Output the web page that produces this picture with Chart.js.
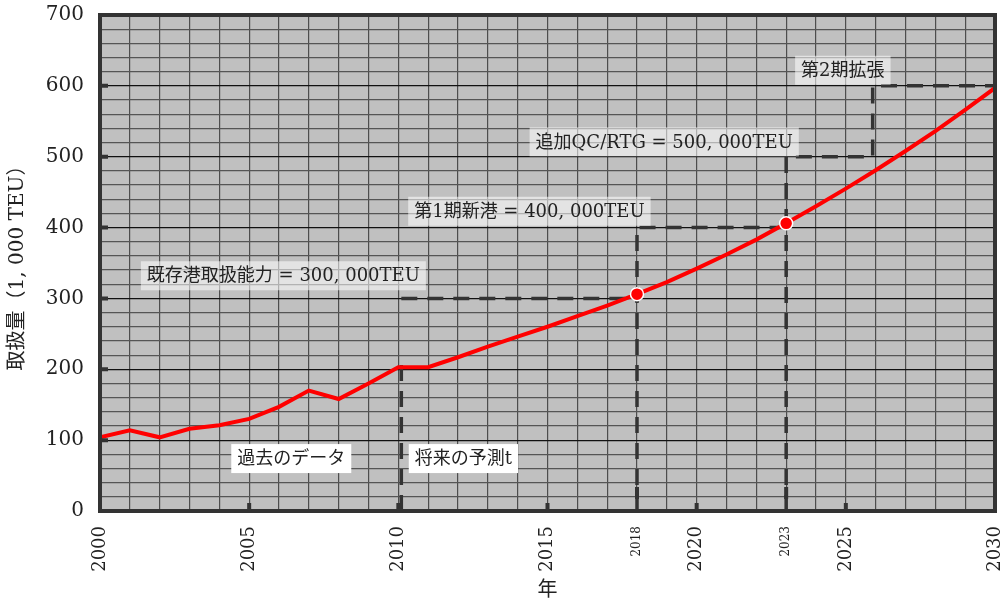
<!DOCTYPE html>
<html>
<head>
<meta charset="utf-8">
<script src="https://cdn.jsdelivr.net/npm/chart.js@4/dist/chart.umd.min.js"></script>
<style>
  html, body { margin: 0; padding: 0; background: #fff; }
  #wrap { width: 1005px; height: 605px; position: relative; }
</style>
</head>
<body>
<div id="wrap"><canvas id="cargo"></canvas></div>
<script>
// Throughput history and forecast (thousand TEU)
const years = [2000, 2001, 2002, 2003, 2004, 2005, 2006, 2007, 2008, 2009, 2010,
  2011, 2012, 2013, 2014, 2015, 2016, 2017, 2018, 2019, 2020,
  2021, 2022, 2023, 2024, 2025, 2026, 2027, 2028, 2029, 2030];
const volumes = [104, 114, 104, 116, 121, 130, 147, 170, 158, 180, 203,
  203, 217, 232, 246, 260, 275, 290, 306, 323, 342,
  362, 383, 406, 430, 455, 481, 508, 536, 566, 597];

// Years where capacity runs out
const markYears = [2018, 2023];

// Capacity steps (dashed)
const pastDivide = [{ x: 2010.1, y: 0 }, { x: 2010.1, y: 210 }];
const cap300 = [{ x: 2010.1, y: 300 }, { x: 2018, y: 300 }];
const cap400 = [{ x: 2018, y: 0 }, { x: 2018, y: 400 }, { x: 2023, y: 400 }];
const cap500to600 = [{ x: 2023, y: 0 }, { x: 2023, y: 500 }, { x: 2025.9, y: 500 },
  { x: 2025.9, y: 600 }, { x: 2030, y: 600 }];

// Axis labels
const majorYearTicks = [2000, 2005, 2010, 2015, 2020, 2025, 2030];
const minorYearTicks = [2018, 2023];
const yTitle = '取扱量（1, 000 TEU）';
const xTitle = '年';

// Text notes: [text, left year, centre value, box style]
const notes = [
  ['既存港取扱能力 = 300, 000TEU', 2001.37, 332, 'soft'],
  ['第1期新港 = 400, 000TEU', 2010.33, 423, 'soft'],
  ['追加QC/RTG = 500, 000TEU', 2014.4, 521, 'soft'],
  ['第2期拡張', 2023.3, 622, 'soft'],
  ['過去のデータ', 2004.4, 74, 'solid'],
  ['将来の予測t', 2010.35, 74, 'solid']
];

const SERIF = '"DejaVu Serif", "Noto Sans CJK JP", serif';
const DASH = [16, 10];
const DASH_COLOR = '#333333';

const plotBackground = {
  id: 'plotBackground',
  beforeDraw(chart) {
    const { ctx, chartArea: a } = chart;
    ctx.save();
    ctx.fillStyle = '#c0c0c0';
    ctx.fillRect(a.left, a.top, a.width, a.height);
    ctx.restore();
  }
};

const frameAndTicks = {
  id: 'frameAndTicks',
  afterDatasetsDraw(chart) {
    const { ctx, chartArea: a, scales: { x, y } } = chart;
    ctx.save();
    ctx.strokeStyle = '#333';
    ctx.lineWidth = 4;
    ctx.strokeRect(a.left, a.top, a.width, a.height);
    // small inward ticks
    ctx.beginPath();
    for (let v = 0; v <= 700; v += 100) {
      const py = y.getPixelForValue(v);
      ctx.moveTo(a.left, py);
      ctx.lineTo(a.left + 8, py);
    }
    for (const yr of majorYearTicks) {
      const px = x.getPixelForValue(yr);
      ctx.moveTo(px, a.bottom);
      ctx.lineTo(px, a.bottom - 8);
    }
    for (const yr of minorYearTicks) {
      const px = x.getPixelForValue(yr);
      ctx.moveTo(px, a.bottom - 12);
      ctx.lineTo(px, a.bottom - 24);
    }
    ctx.stroke();
    ctx.restore();
  }
};

const noteBoxes = {
  id: 'noteBoxes',
  afterDatasetsDraw(chart) {
    const { ctx, scales: { x, y } } = chart;
    ctx.save();
    ctx.font = '18px ' + SERIF;
    ctx.textBaseline = 'middle';
    ctx.textAlign = 'left';
    for (const [text, yr, val, style] of notes) {
      const left = x.getPixelForValue(yr);
      const cy = y.getPixelForValue(val);
      const w = ctx.measureText(text).width + 12;
      const h = 29;
      ctx.fillStyle = style === 'solid' ? '#ffffff' : 'rgba(255,255,255,0.55)';
      ctx.fillRect(left, cy - h / 2, w, h);
      ctx.fillStyle = '#222';
      ctx.fillText(text, left + 6, cy + 1);
    }
    ctx.restore();
  }
};

const dashed = (data) => ({
  data,
  borderColor: DASH_COLOR,
  borderWidth: 3.5,
  borderDash: DASH,
  pointRadius: 0,
  tension: 0,
  order: 2
});

new Chart(document.getElementById('cargo'), {
  type: 'line',
  data: {
    datasets: [
      {
        data: years.map((yr, i) => ({ x: yr, y: volumes[i] })),
        borderColor: '#ff0000',
        borderWidth: 4,
        tension: 0,
        pointRadius: (c) => markYears.includes(years[c.dataIndex]) ? 6.5 : 0,
        pointBackgroundColor: '#ff0000',
        pointBorderColor: '#ffffff',
        pointBorderWidth: 1.5,
        order: 1
      },
      dashed(pastDivide),
      dashed(cap300),
      dashed(cap400),
      dashed(cap500to600)
    ]
  },
  options: {
    responsive: true,
    maintainAspectRatio: false,
    animation: false,
    layout: { padding: { top: 15, right: 10, left: 0, bottom: 0 } },
    plugins: { legend: { display: false }, tooltip: { enabled: false } },
    scales: {
      x: {
        type: 'linear',
        min: 2000,
        max: 2030,
        afterFit: (s) => {
          s.height = 94;
          s.paddingLeft = 0;
          s.paddingRight = 0;
        },
        afterBuildTicks: (s) => {
          s.ticks = years.map((v) => ({ value: v }));
        },
        ticks: {
          autoSkip: false,
          minRotation: 90,
          maxRotation: 90,
          padding: 15,
          color: '#222',
          callback: (v) => (majorYearTicks.includes(v) || minorYearTicks.includes(v)) ? String(v) : '',
          font: (c) => ({
            family: SERIF,
            size: minorYearTicks.includes(c.tick && c.tick.value) ? 12 : 18
          })
        },
        grid: { color: '#4d4d4d', lineWidth: 1.2, drawTicks: false },
        border: { display: true, color: '#333', width: 4 },
        title: {
          display: true,
          text: xTitle,
          color: '#222',
          font: { family: SERIF, size: 20 },
          padding: { top: 0, bottom: 2 }
        }
      },
      y: {
        min: 0,
        max: 700,
        afterFit: (s) => {
          s.width = 100;
          s.paddingTop = 0;
          s.paddingBottom = 0;
        },
        ticks: {
          stepSize: 20,
          autoSkip: false,
          padding: 16,
          color: '#222',
          font: { family: SERIF, size: 20 },
          callback: (v) => v % 100 === 0 ? String(v) : ''
        },
        grid: {
          color: (c) => c.tick && c.tick.value % 100 === 0 ? '#111' : '#555',
          lineWidth: 1.2,
          drawTicks: false
        },
        border: { display: true, color: '#333', width: 4 },
        title: {
          display: true,
          text: yTitle,
          color: '#222',
          font: { family: SERIF, size: 20 },
          padding: { top: 6, bottom: 0 }
        }
      }
    }
  },
  plugins: [plotBackground, frameAndTicks, noteBoxes]
});
</script>
</body>
</html>
